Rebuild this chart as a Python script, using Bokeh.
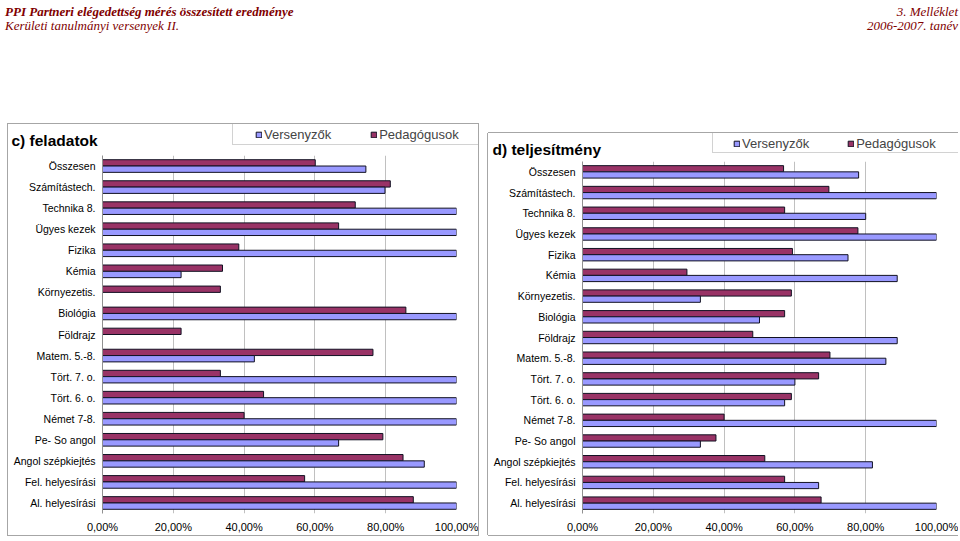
from bokeh.plotting import figure
from bokeh.models import (ColumnDataSource, FactorRange, Range1d, FixedTicker,
                          Legend, LegendItem, Div, Spacer, Label)
from bokeh.layouts import column, row
from bokeh.transform import dodge
from bokeh.embed import file_html
from bokeh.resources import INLINE

categories = ["Összesen", "Számítástech.", "Technika 8.", "Ügyes kezek", "Fizika",
              "Kémia", "Környezetis.", "Biológia", "Földrajz", "Matem. 5.-8.",
              "Tört. 7. o.", "Tört. 6. o.", "Német 7-8.", "Pe- So angol",
              "Angol szépkiejtés", "Fel. helyesírási", "Al. helyesírási"]

series_names = ["Versenyzők", "Pedagógusok"]

feladatok_versenyzok = [74.4, 79.8, 100, 100, 100, 22.2, 0, 100, 0, 42.9,
                        100, 100, 100, 66.7, 90.9, 100, 100]
feladatok_pedagogusok = [60.1, 81.3, 71.4, 66.7, 38.5, 33.9, 33.3, 85.7, 22.2, 76.4,
                         33.3, 45.5, 40.0, 79.2, 84.9, 57.1, 87.8]

teljesitmeny_versenyzok = [78.0, 100, 80.0, 100, 75.0, 88.9, 33.3, 50.0, 88.9, 85.7,
                           60.0, 57.1, 100, 33.3, 81.9, 66.7, 100]
teljesitmeny_pedagogusok = [56.8, 69.6, 57.1, 77.8, 59.3, 29.5, 59.0, 57.1, 48.1, 69.9,
                            66.7, 59.0, 40.0, 37.7, 51.5, 57.1, 67.4]

tick_values = [0, 20, 40, 60, 80, 100]
tick_labels = ["0,00%", "20,00%", "40,00%", "60,00%", "80,00%", "100,00%"]

VERS_COLOR = "#9999FF"
PED_COLOR = "#993366"
EDGE = "#111122"
FONT = "Liberation Sans"


def make_head(title, width, height, title_xy, box_loc, box_size, items_loc, items_spacing):
    h = figure(width=width, height=height, x_range=Range1d(0, width),
               y_range=Range1d(0, height), x_axis_type=None, y_axis_type=None,
               min_border=0, output_backend="svg", toolbar_location=None,
               background_fill_color="white", border_fill_color="white",
               frame_align=False)
    h.outline_line_color = None
    h.grid.visible = False
    h.add_layout(Label(x=title_xy[0], y=title_xy[1], text=title, text_font=FONT,
                       text_font_size="15.5px", text_font_style="bold",
                       text_baseline="middle", text_align="left", text_color="black"))
    # legend swatch renderers (kept outside the visible range)
    r_box = h.hbar(y=[-100], right=[1], left=[0], height=1, fill_alpha=0, line_alpha=0)
    r_vers = h.hbar(y=[-100], right=[1], left=[0], height=1, fill_color=VERS_COLOR,
                    line_color=EDGE, line_width=1)
    r_ped = h.hbar(y=[-100], right=[1], left=[0], height=1, fill_color=PED_COLOR,
                   line_color=EDGE, line_width=1)
    box = Legend(items=[LegendItem(label=" ", renderers=[r_box])],
                 location=box_loc, orientation="horizontal", padding=0, margin=0,
                 glyph_width=0, glyph_height=0, label_standoff=0,
                 label_width=box_size[0], label_height=box_size[1],
                 label_text_font_size="8px",
                 border_line_color="#a6a6a6", border_line_width=1,
                 background_fill_color="white", background_fill_alpha=1)
    h.add_layout(box)
    leg = Legend(items=[LegendItem(label=series_names[0], renderers=[r_vers]),
                        LegendItem(label=series_names[1], renderers=[r_ped])],
                 location=items_loc, orientation="horizontal", padding=0, margin=0,
                 spacing=items_spacing, glyph_width=7, glyph_height=7,
                 label_standoff=2, label_text_font=FONT, label_text_font_size="13px",
                 border_line_color=None, background_fill_alpha=0)
    h.add_layout(leg)
    return h


def make_chart(vers, ped, width, height, mb_right):
    src = ColumnDataSource(dict(cat=categories, vers=vers, ped=ped))
    p = figure(width=width, height=height,
               y_range=FactorRange(factors=list(reversed(categories))),
               x_range=Range1d(0, 100),
               output_backend="svg", toolbar_location=None,
               min_border_top=0, min_border_bottom=20,
               min_border_left=94, min_border_right=mb_right,
               background_fill_color="white", border_fill_color="white",
               frame_align=False)
    p.outline_line_color = None

    p.hbar(y=dodge("cat", 0.15, range=p.y_range), left=0, right="ped",
           height=0.3, source=src, fill_color=PED_COLOR, line_color=EDGE, line_width=1)
    p.hbar(y=dodge("cat", -0.15, range=p.y_range), left=0, right="vers",
           height=0.3, source=src, fill_color=VERS_COLOR, line_color=EDGE, line_width=1)

    p.xaxis.ticker = FixedTicker(ticks=tick_values)
    p.xaxis.major_label_overrides = dict(zip(tick_values, tick_labels))
    p.xaxis.axis_line_color = None
    p.xaxis.major_tick_line_color = None
    p.xaxis.minor_tick_line_color = None
    p.xaxis.major_tick_out = 0
    p.xaxis.major_tick_in = 0
    p.xaxis.minor_tick_out = 0
    p.xaxis.major_label_standoff = 7
    p.xaxis.major_label_text_font = FONT
    p.xaxis.major_label_text_font_size = "11px"
    p.xaxis.major_label_text_color = "black"

    p.yaxis.axis_line_color = "#909090"
    p.yaxis.major_tick_line_color = None
    p.yaxis.minor_tick_line_color = None
    p.yaxis.major_tick_out = 0
    p.yaxis.major_tick_in = 0
    p.yaxis.major_label_standoff = 7
    p.yaxis.major_label_text_font = FONT
    p.yaxis.major_label_text_font_size = "10.5px"
    p.yaxis.major_label_text_color = "black"

    p.xgrid.ticker = FixedTicker(ticks=tick_values)
    p.xgrid.grid_line_color = "#c0c0c0"
    p.ygrid.grid_line_color = None
    return p


# left panel: c) feladatok
head_l = make_head("c) feladatok", 470, 31, (3, 15.3), (224, 10), (242, 21), (247, 13), 39)
chart_l = make_chart(feladatok_versenyzok, feladatok_pedagogusok, 470, 380, 22)
panel_l = column(head_l, chart_l, spacing=0,
                 styles={"box-shadow": "0 0 0 1px #a6a6a6"})

# right panel: d) teljesítmény
head_r = make_head("d) teljesítmény", 470, 28, (4, 12.3), (224, 8), (240, 20), (245, 10), 38)
chart_r = make_chart(teljesitmeny_versenyzok, teljesitmeny_pedagogusok, 470, 374, 22)
panel_r = column(head_r, chart_r, spacing=0,
                 styles={"box-shadow": "-1px 0 0 0 #a6a6a6, 0 -1px 0 0 #a6a6a6, 0 1px 0 0 #a6a6a6"})

header_html = (
    '<div style="width:953px;font-family:\'Liberation Serif\';'
    'font-style:italic;color:#800000;font-size:13px;line-height:14px;">'
    '<div style="display:flex;justify-content:space-between;">'
    '<b>PPI Partneri elégedettség mérés összesített eredménye</b><span>3. Melléklet</span></div>'
    '<div style="display:flex;justify-content:space-between;">'
    '<span>Kerületi tanulmányi versenyek II.</span><span>2006-2007. tanév</span></div>'
    '</div>'
)
header = Div(text=header_html, width=958, height=114)

right_col = column(Spacer(width=470, height=9), panel_r, spacing=0)
body = row(Spacer(width=8, height=10), panel_l, Spacer(width=10, height=10), right_col,
           spacing=0)
layout = column(header, body, spacing=0)

open("out.html", "w").write(file_html(layout, INLINE))
